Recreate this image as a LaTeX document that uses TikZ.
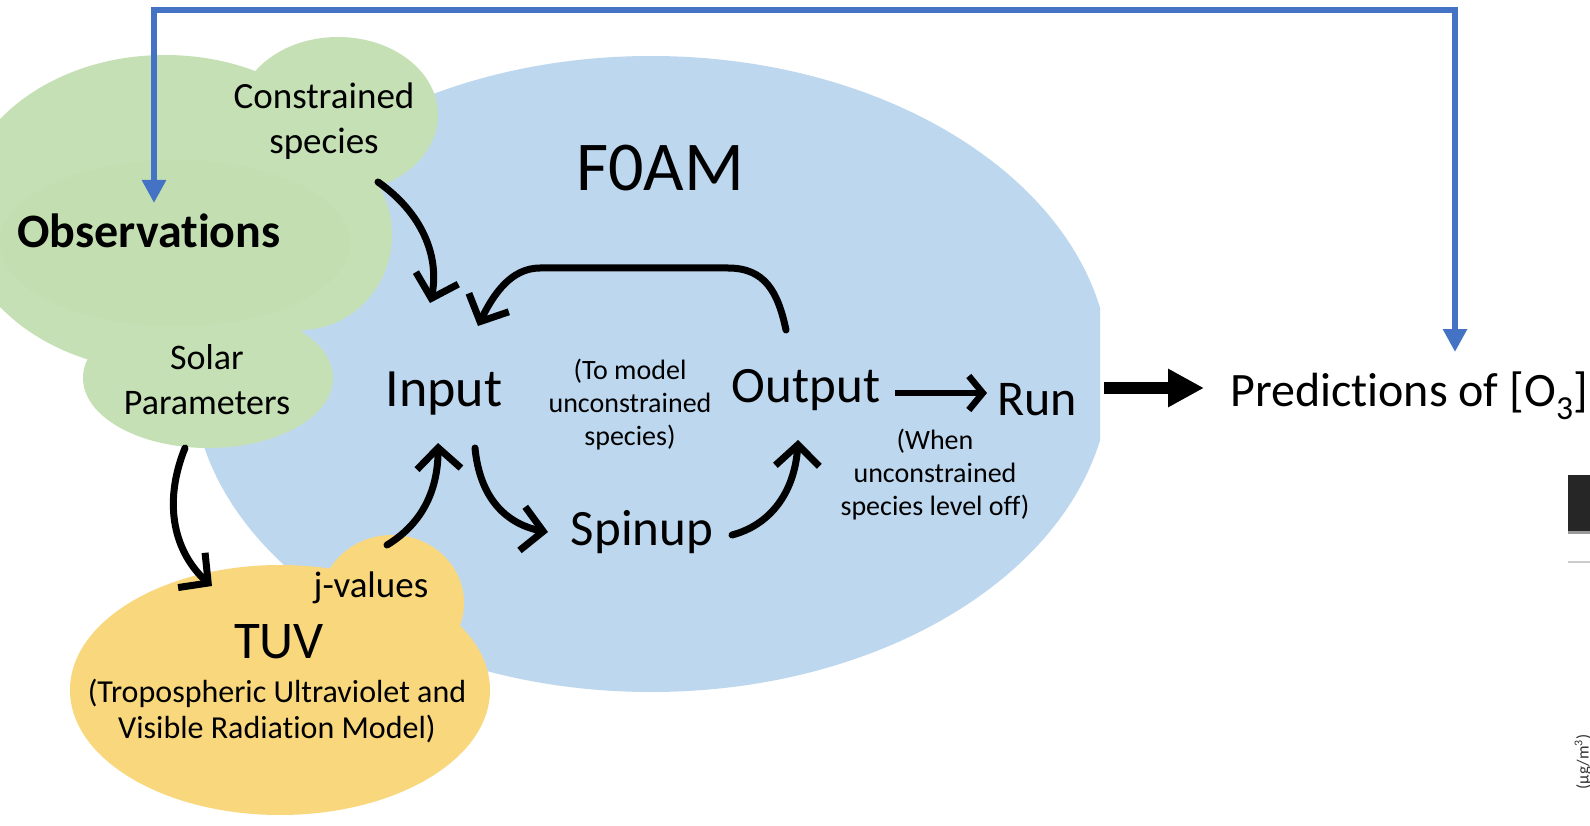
\documentclass[tikz,border=0pt]{standalone}
\usepackage{fontspec}
\setmainfont{Carlito}[Ligatures=CommonOff]
\usetikzlibrary{arrows.meta,bending}

\definecolor{foamblue}{HTML}{BDD7EE}
\definecolor{obsgreen}{HTML}{C5E0B4}
\definecolor{obsgreenin}{HTML}{C3DFB1}
\definecolor{tuvyellow}{HTML}{F9D77C}
\definecolor{linkblue}{HTML}{4472C4}

\newcommand{\fsz}[2]{\fontsize{#1}{#2}\selectfont}

\begin{document}
\begin{tikzpicture}[x=1pt,y=-1pt,
  lbl/.style={inner sep=0pt, text=black},
  flow/.style={line width=7pt, line cap=round, -{Straight Barb[length=21pt,width=44pt]}},
  bigflow/.style={line width=12pt, -{Triangle[length=36pt,width=36pt]}},
  link/.style={draw=linkblue, line width=6.5pt, line join=miter,
    {Triangle[length=23pt,width=23pt]}-{Triangle[length=23pt,width=23pt]}}]

\useasboundingbox (0,0) rectangle (1590,826);
\fill[white] (0,0) rectangle (1590,826);

% F0AM model region, cut straight on its right side
\begin{scope}
  \clip (0,0) rectangle (1100,826);
  \fill[foamblue] (651,374) ellipse [x radius=459pt, y radius=318pt];
\end{scope}

% observations cloud
\fill[obsgreen] (165,213) ellipse [x radius=205pt, y radius=158pt];
\fill[obsgreen] (338,115) ellipse [x radius=100pt, y radius=78pt];
\fill[obsgreen] (300,235) ellipse [x radius=92pt, y radius=95pt];
\fill[obsgreen] (208,378) ellipse [x radius=125pt, y radius=70pt];
\fill[obsgreenin] (175,243) ellipse [x radius=175pt, y radius=83pt];

% TUV cloud
\fill[tuvyellow] (280,690) ellipse [x radius=210pt, y radius=125pt];
\fill[tuvyellow] (392,603) ellipse [x radius=72pt, y radius=68pt];

% labels
\node[lbl, font=\fsz{37}{45}, align=center] (cs) at (324,121) {Constrained\\species};
\node[lbl, font=\bfseries\fsz{48}{52}, anchor=base] (obs) at (149,248) {Observations};
\node[lbl, font=\fsz{36}{45}, align=center] (solar) at (207,380) {Solar\\Parameters};
\node[lbl, font=\fsz{70}{80}, anchor=base] (foam) at (660,191) {F0AM};
\node[lbl, font=\fsz{54}{60}, anchor=base] (input) at (444,406) {Input};
\node[lbl, font=\fsz{51}{60}, anchor=base] (output) at (806,402) {Output};
\node[lbl, font=\fsz{50}{60}, anchor=base] (run) at (1037,415) {Run};
\node[lbl, font=\fsz{51}{60}, anchor=base] (spinup) at (642,545) {Spinup};
\node[lbl, font=\fsz{28}{33}, align=center] (tomodel) at (630,405) {(To model\\unconstrained\\species)};
\node[lbl, font=\fsz{28}{33}, align=center] (when) at (935,475) {(When\\unconstrained\\species level off)};
\node[lbl, font=\fsz{37}{40}, anchor=base] (jval) at (371,597) {j-values};
\node[lbl, font=\fsz{53}{60}, anchor=base] (tuv) at (279,658) {TUV};
\node[lbl, font=\fsz{32}{36}, align=center] (tuvname) at (277,711) {(Tropospheric Ultraviolet and\\Visible Radiation Model)};
\node[lbl, font=\fsz{48}{56}, anchor=base west] (pred) at (1230,406) {Predictions of [O\textsubscript{3}]};

% neighbouring panel edge
\fill[black!85] (1568,475) rectangle (1590,531);
\fill[black!40] (1568,531) rectangle (1590,534);
\draw[black!20, line width=1.5pt] (1568,562) -- (1590,562);
\node[lbl, rotate=90, font=\fsz{17}{20}, text=black!80] (unit) at (1583,762) {(μg/m\textsuperscript{3})};

% connector end points
\coordinate (csOut) at (378,182);
\coordinate (inTopL) at (430,303);
\coordinate (outTop) at (786,330);
\coordinate (loopR) at (728,268);
\coordinate (loopL) at (540,268);
\coordinate (inTopR) at (478,326);
\coordinate (jvOut) at (387,545);
\coordinate (inBotL) at (438,443);
\coordinate (inBotR) at (475,448);
\coordinate (spinL) at (548,532);
\coordinate (spinR) at (732,535);
\coordinate (outBot) at (798,440);
\coordinate (solarOut) at (185,448);
\coordinate (tuvIn) at (212,586);
\coordinate (outR) at (895,393);
\coordinate (runL) at (987,393);
\coordinate (runR) at (1104,388);
\coordinate (predL) at (1204,388);
\coordinate (obsTip) at (154,203);
\coordinate (predTip) at (1455,352);
\coordinate (bendL) at (154,10);
\coordinate (bendR) at (1455,10);

% model flow
\draw[flow] (csOut) .. controls (425,215) and (442,262) .. (inTopL);
\draw[flow] (outTop) .. controls (778,292) and (765,268) .. (loopR) -- (loopL)
  .. controls (508,268) and (490,300) .. (inTopR);
\draw[flow] (jvOut) .. controls (420,525) and (440,492) .. (inBotL);
\draw[flow] (inBotR) .. controls (480,500) and (508,527) .. (spinL);
\draw[flow] (spinR) .. controls (770,525) and (797,492) .. (outBot);
\draw[flow] (solarOut) .. controls (160,510) and (178,560) .. (tuvIn);
\draw[line width=6.5pt, -{Straight Barb[length=14pt,width=34pt]}] (outR) -- (runL);
\draw[bigflow] (runR) -- (predL);

% feedback of predictions to observations
\draw[link] (obsTip) -- (bendL) -- (bendR) -- (predTip);

\end{tikzpicture}
\end{document}
